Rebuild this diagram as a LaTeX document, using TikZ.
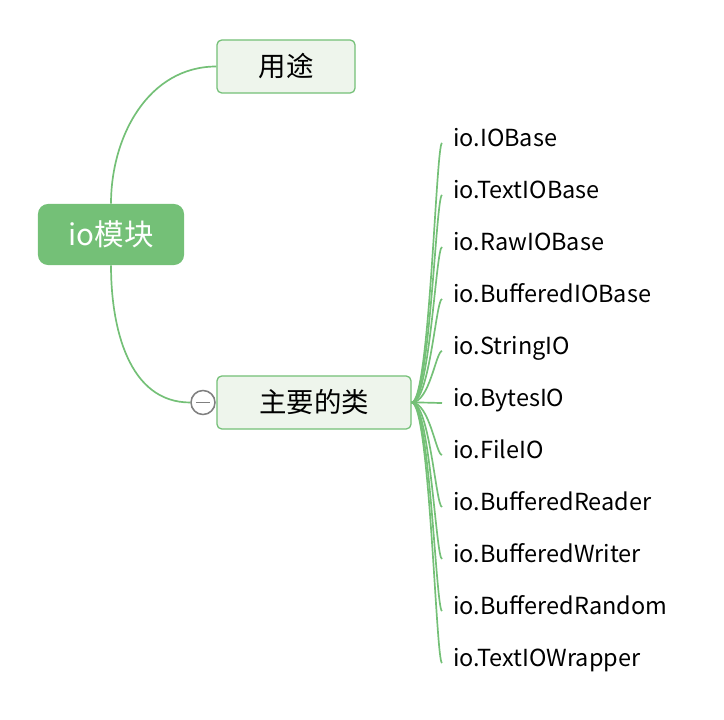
\documentclass[tikz,border=0pt]{standalone}
\usepackage{fontspec}
\setmainfont{Noto Sans CJK SC}
\usetikzlibrary{positioning}
\definecolor{mapgreen}{HTML}{74C077}
\definecolor{topicfill}{HTML}{EEF5EC}
\definecolor{foldgray}{HTML}{808080}

\begin{document}
\begin{tikzpicture}[x=0.025cm, y=-0.025cm,
  rootbox/.style={fill=mapgreen, rounded corners=0.25cm, minimum width=3.65cm,
    minimum height=1.525cm, text=white, font=\fontsize{21}{24}\selectfont},
  topic/.style={draw=mapgreen, fill=topicfill, line width=0.9pt,
    rounded corners=0.12cm, minimum height=1.325cm, font=\fontsize{19.5}{22}\selectfont},
  leaf/.style={anchor=west, inner xsep=0.275cm, text height=0.75em, text depth=0.2em,
    font=\fontsize{16.7}{20}\selectfont},
  link/.style={draw=mapgreen, line width=1.2pt},
  foldbtn/.style={circle, draw=foldgray, fill=white, line width=1.1pt, minimum size=0.6cm,
    inner sep=0pt, path picture={\draw[foldgray, line width=1.1pt]
      ([xshift=-0.18cm]path picture bounding box.center) -- ([xshift=0.18cm]path picture bounding box.center);}}
]
\useasboundingbox (0,0) rectangle (724,720);

% Root and main topics
\node[rootbox] (root) at (111,234.5) {io模块};
\node[topic, minimum width=3.45cm] (use) at (286,66.5) {用途};
\node[topic, minimum width=4.85cm] (classes) at (314,402.5) {主要的类};
\node[foldbtn] (collapse) at (203,402.5) {};

\draw[link] (root.north) to[out=90,in=180] (use.west);
\draw[link] (root.south) to[out=-90,in=180] (collapse.west);

% Subtopics of the classes branch
\foreach \name [count=\i] in {IOBase,TextIOBase,RawIOBase,BufferedIOBase,StringIO,
    BytesIO,FileIO,BufferedReader,BufferedWriter,BufferedRandom,TextIOWrapper} {
  \node[leaf] (cls\i) at (442,91+52*\i) {io.\name};
  \draw[link] (classes.east) .. controls +(18,0) and +(-6,0) .. (cls\i.west);
}
\end{tikzpicture}
\end{document}
